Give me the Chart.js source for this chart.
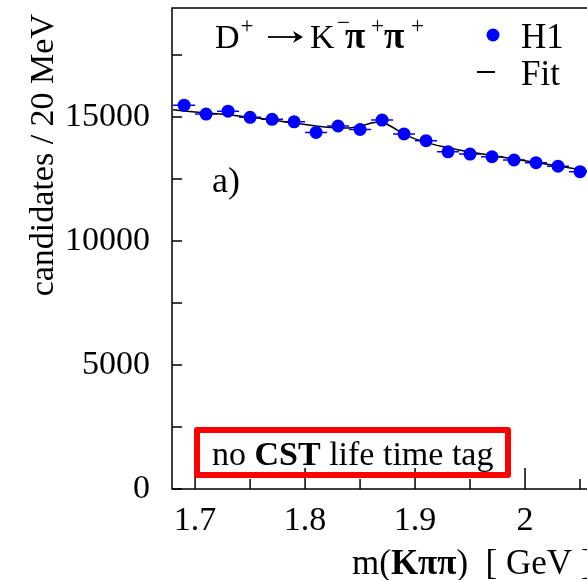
<!DOCTYPE html>
<html>
<head>
<meta charset="utf-8">
<script src="https://cdn.jsdelivr.net/npm/chart.js@4.4.0/dist/chart.umd.min.js"></script>
<style>
  html, body { margin: 0; padding: 0; background: #fff; overflow: hidden; }
  #wrap { width: 587px; height: 580px; overflow: hidden; }
</style>
</head>
<body>
<div id="wrap"><canvas id="chart" width="680" height="580"></canvas></div>
<script>
// bin centres (GeV), 20 MeV bins
const massBins = [1.69, 1.71, 1.73, 1.75, 1.77, 1.79, 1.81, 1.83, 1.85, 1.87,
  1.89, 1.91, 1.93, 1.95, 1.97, 1.99, 2.01, 2.03, 2.05];
const candidates = [15480, 15120, 15240, 14990, 14910, 14810, 14380, 14640, 14500, 14880,
  14320, 14050, 13600, 13510, 13400, 13270, 13160, 13020, 12800];
const candidateErr = [125, 123, 123, 122, 122, 122, 120, 121, 120, 122,
  120, 119, 117, 116, 116, 115, 115, 114, 113];
const binHalfWidth = 0.01;

// fit curve
const fitMass = [1.68, 1.69, 1.70, 1.71, 1.72, 1.73, 1.74, 1.75, 1.76, 1.77, 1.78, 1.79,
  1.80, 1.81, 1.82, 1.83, 1.84, 1.85, 1.86, 1.87, 1.88, 1.89, 1.90, 1.91, 1.92, 1.93,
  1.94, 1.95, 1.96, 1.97, 1.98, 1.99, 2.00, 2.01, 2.02, 2.03, 2.04, 2.05, 2.06];
const fitValues = [15300, 15250, 15210, 15170, 15130, 15090, 15040, 14990, 14940, 14880,
  14820, 14760, 14700, 14640, 14590, 14560, 14560, 14620, 14760, 14820, 14580, 14300,
  14120, 13980, 13860, 13760, 13670, 13590, 13520, 13450, 13380, 13310, 13240, 13170,
  13100, 13030, 12960, 12880, 12810];

const xLabelTicks = [1.7, 1.8, 1.9, 2.0, 2.1];
const xMinorTicks = [1.75, 1.85, 1.95, 2.05];
const yLabelTicks = [0, 5000, 10000, 15000];
const yMinorTicks = [2500, 7500, 12500, 17500];

const SERIF = "'Liberation Serif', 'DejaVu Serif', serif";
const BLUE = "#0000ff";

// draws a row of text pieces with their own fonts / offsets
function drawRuns(ctx, x, y, runs) {
  ctx.save();
  ctx.textAlign = "left";
  ctx.textBaseline = "alphabetic";
  ctx.fillStyle = "#000";
  let cx = x;
  runs.forEach((r) => {
    ctx.font = r.font;
    if (r.at !== undefined) cx = x + r.at;
    cx += r.dx || 0;
    ctx.fillText(r.t, cx, y + (r.dy || 0));
    cx += ctx.measureText(r.t).width;
  });
  ctx.restore();
  return cx;
}

const reg = (s) => `${s}px ${SERIF}`;
const bold = (s) => `bold ${s}px ${SERIF}`;

const framePlugin = {
  id: "frame",
  beforeDatasetsDraw(chart) {
    const { ctx, chartArea: a, scales } = chart;
    ctx.save();
    ctx.strokeStyle = "#000";
    ctx.lineWidth = 1.5;
    ctx.strokeRect(a.left, a.top, a.right - a.left, a.bottom - a.top);

    // inward ticks
    ctx.beginPath();
    xLabelTicks.forEach((v) => {
      const px = scales.x.getPixelForValue(v);
      ctx.moveTo(px, a.bottom); ctx.lineTo(px, a.bottom - 21);
    });
    xMinorTicks.forEach((v) => {
      const px = scales.x.getPixelForValue(v);
      ctx.moveTo(px, a.bottom); ctx.lineTo(px, a.bottom - 10);
    });
    yLabelTicks.concat(yMinorTicks).forEach((v) => {
      const py = scales.y.getPixelForValue(v);
      ctx.moveTo(a.left, py); ctx.lineTo(a.left + 10, py);
    });
    ctx.stroke();

    // error bars of the data points
    ctx.strokeStyle = BLUE;
    ctx.lineWidth = 1.5;
    ctx.beginPath();
    massBins.forEach((m, i) => {
      const y = scales.y.getPixelForValue(candidates[i]);
      ctx.moveTo(scales.x.getPixelForValue(m - binHalfWidth), y);
      ctx.lineTo(scales.x.getPixelForValue(m + binHalfWidth), y);
      const px = scales.x.getPixelForValue(m);
      ctx.moveTo(px, scales.y.getPixelForValue(candidates[i] - candidateErr[i]));
      ctx.lineTo(px, scales.y.getPixelForValue(candidates[i] + candidateErr[i]));
    });
    ctx.stroke();
    ctx.restore();
  },
  afterDraw(chart) {
    const { ctx, chartArea: a } = chart;

    // decay label
    const tx = a.left + 43, ty = a.top + 40;
    drawRuns(ctx, tx, ty, [
      { t: "D", font: reg(34) },
      { t: "+", font: reg(23), dy: -15, dx: 1 },
      { t: "K", font: reg(34), at: 95 },
      { t: "\u2212", font: reg(23), dy: -18, at: 122 },
      { t: "\u03c0", font: bold(37), at: 130 },
      { t: "+", font: reg(23), dy: -15, at: 156 },
      { t: "\u03c0", font: bold(37), at: 169 },
      { t: "+", font: reg(23), dy: -15, at: 196 },
    ]);
    // arrow
    ctx.save();
    ctx.strokeStyle = "#000";
    ctx.fillStyle = "#000";
    ctx.lineWidth = 1.8;
    ctx.beginPath();
    ctx.moveTo(tx + 53, ty - 11); ctx.lineTo(tx + 85, ty - 11);
    ctx.stroke();
    ctx.beginPath();
    ctx.moveTo(tx + 88, ty - 11);
    ctx.lineTo(tx + 78, ty - 17);
    ctx.lineTo(tx + 81, ty - 11);
    ctx.lineTo(tx + 78, ty - 5);
    ctx.closePath();
    ctx.fill();
    ctx.restore();

    // legend
    ctx.save();
    ctx.fillStyle = BLUE;
    ctx.beginPath();
    ctx.arc(493, a.top + 27, 6.5, 0, Math.PI * 2);
    ctx.fill();
    ctx.strokeStyle = "#000";
    ctx.lineWidth = 2;
    ctx.beginPath();
    ctx.moveTo(477, a.top + 64); ctx.lineTo(495, a.top + 64);
    ctx.stroke();
    ctx.restore();
    drawRuns(ctx, 521, a.top + 40, [{ t: "H1", font: reg(35) }]);
    drawRuns(ctx, 521, a.top + 77, [{ t: "Fit", font: reg(35) }]);

    // panel letter
    drawRuns(ctx, a.left + 40, a.top + 184, [{ t: "a)", font: reg(36) }]);

    // tag box
    ctx.save();
    ctx.strokeStyle = "#ff0000";
    ctx.lineWidth = 6;
    ctx.lineJoin = "round";
    ctx.strokeRect(a.left + 25, a.bottom - 59, 311, 45);
    ctx.restore();
    drawRuns(ctx, a.left + 40, a.bottom - 24, [
      { t: "no ", font: reg(34) },
      { t: "CST", font: bold(34) },
      { t: " life time tag", font: reg(34) },
    ]);

    // x axis title
    drawRuns(ctx, 352, 574, [
      { t: "m(", font: reg(35) },
      { t: "K\u03c0\u03c0", font: bold(35) },
      { t: ")  [ GeV ]", font: reg(35) },
    ]);

    // y axis title
    ctx.save();
    ctx.translate(53, 14);
    ctx.rotate(-Math.PI / 2);
    ctx.font = reg(34);
    ctx.fillStyle = "#000";
    ctx.textAlign = "right";
    ctx.textBaseline = "alphabetic";
    ctx.fillText("candidates / 20 MeV", 0, 0);
    ctx.restore();
  },
};

new Chart(document.getElementById("chart"), {
  type: "scatter",
  data: {
    datasets: [
      {
        label: "H1",
        data: massBins.map((m, i) => ({ x: m, y: candidates[i] })),
        backgroundColor: BLUE,
        borderWidth: 0,
        pointRadius: 6.5,
        order: 0,
      },
      {
        type: "line",
        label: "Fit",
        data: fitMass.map((m, i) => ({ x: m, y: fitValues[i] })),
        borderColor: "#000",
        borderWidth: 1.5,
        pointRadius: 0,
        tension: 0,
        fill: false,
        order: 1,
      },
    ],
  },
  options: {
    responsive: false,
    animation: false,
    devicePixelRatio: 1,
    layout: { padding: { left: 0, top: 8, right: 12, bottom: 0 } },
    plugins: {
      legend: { display: false },
      tooltip: { enabled: false },
    },
    scales: {
      x: {
        type: "linear",
        min: 1.679,
        max: 2.13,
        grid: { display: false },
        border: { display: false },
        afterBuildTicks: (scale) => {
          scale.ticks = xLabelTicks.map((v) => ({ value: v }));
        },
        afterFit: (scale) => {
          scale.height = 91;
          scale.paddingLeft = 0;
          scale.paddingRight = 0;
        },
        ticks: {
          color: "#000",
          font: { family: SERIF, size: 34 },
          padding: 4,
          maxRotation: 0,
          callback: (v) => String(v),
        },
      },
      y: {
        min: 0,
        max: 19400,
        grid: { display: false },
        border: { display: false },
        afterBuildTicks: (scale) => {
          scale.ticks = yLabelTicks.map((v) => ({ value: v }));
        },
        afterFit: (scale) => {
          scale.width = 172;
          scale.paddingTop = 0;
          scale.paddingBottom = 0;
        },
        ticks: {
          color: "#000",
          font: { family: SERIF, size: 34 },
          padding: 14,
          callback: (v) => String(v),
        },
      },
    },
  },
  plugins: [framePlugin],
});
</script>
</body>
</html>
